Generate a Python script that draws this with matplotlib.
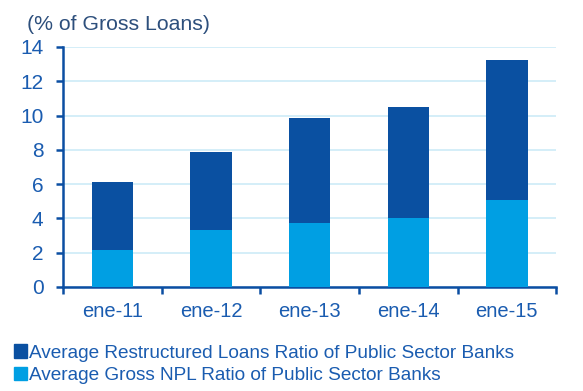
import numpy as np
import matplotlib
matplotlib.use("Agg")
import matplotlib.pyplot as plt
from matplotlib.patches import Patch

plt.rcParams['font.family'] = ['Liberation Sans', 'DejaVu Sans']

# data
periods = ['ene-11', 'ene-12', 'ene-13', 'ene-14', 'ene-15']
gross_npl = [2.14, 3.33, 3.73, 4.03, 5.10]
restructured = [4.01, 4.53, 6.13, 6.44, 8.14]
y_ticks = [0, 2, 4, 6, 8, 10, 12, 14]

DARK = '#0A50A1'
LIGHT = '#009FE3'
AXIS = '#0B4EA2'
GRID = '#CDEBF7'
TEXT = '#1A5CB0'

fig = plt.figure(figsize=(5.83, 3.91), dpi=100)
ax = fig.add_axes([0.108, 0.266, 0.846, 0.614])

x = np.arange(len(periods))
w = 0.42
ax.bar(x, gross_npl, width=w, color=LIGHT, zorder=3)
ax.bar(x, restructured, width=w, bottom=gross_npl, color=DARK, zorder=3)

ax.set_xlim(-0.5, len(periods) - 0.5)
ax.set_ylim(0, 14)
ax.set_yticks(y_ticks)
ax.yaxis.grid(True, color=GRID, linewidth=1.2, zorder=0)
ax.set_axisbelow(True)

# x ticks sit between categories, labels at centers
ax.set_xticks(np.arange(-0.5, len(periods)), minor=False)
ax.set_xticklabels([])
ax.set_xticks(x, minor=True)
ax.set_xticklabels(periods, minor=True)
ax.tick_params(axis='x', which='minor', length=0, pad=11, labelsize=14.5, labelcolor=TEXT)
ax.tick_params(axis='x', which='major', length=5, width=1.8, color=AXIS, direction='out')
ax.tick_params(axis='y', length=5, width=1.8, color=AXIS, labelsize=15, labelcolor=TEXT, pad=9)

for side in ['top', 'right']:
    ax.spines[side].set_visible(False)
for side in ['left', 'bottom']:
    ax.spines[side].set_color(AXIS)
    ax.spines[side].set_linewidth(1.8)

fig.text(0.046, 0.937, '(% of Gross Loans)', fontsize=15.3, color='#2D4F7C', va='center')

handles = [Patch(color=DARK, label='Average Restructured Loans Ratio of Public Sector Banks'),
           Patch(color=LIGHT, label='Average Gross NPL Ratio of Public Sector Banks')]
leg = fig.legend(handles=handles, loc='upper left', bbox_to_anchor=(0.02, 0.124),
                 frameon=False, fontsize=13.7, handlelength=0.7, handleheight=0.7,
                 handletextpad=0.12, labelspacing=0.28, borderaxespad=0, borderpad=0.1)
for t in leg.get_texts():
    t.set_color(TEXT)

fig.savefig('out.png', dpi=100)
